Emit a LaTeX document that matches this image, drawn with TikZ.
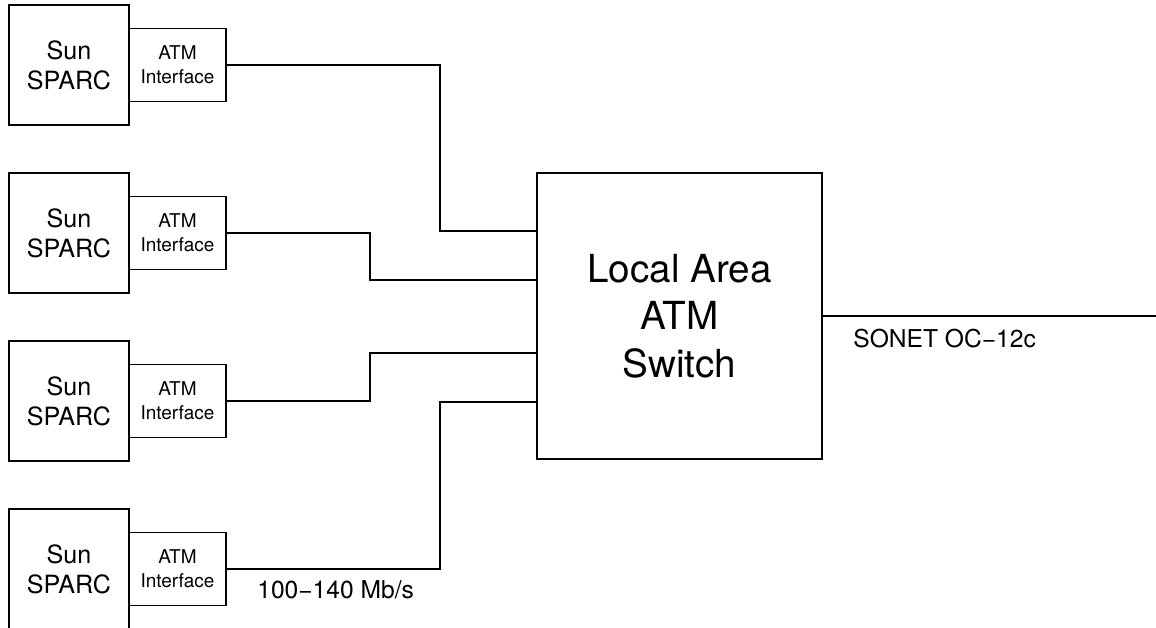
\documentclass[tikz,border=0pt]{standalone}
\usepackage{fontspec}
\setmainfont{TeX Gyre Heros}
\usepackage{tikz}
\usetikzlibrary{positioning,calc}

\tikzset{
  host/.style={draw, line width=1pt, minimum width=2.4cm, minimum height=2.4cm,
    inner sep=0pt, outer sep=0pt, align=center, font=\fontsize{14.3}{17}\selectfont},
  iface/.style={draw, line width=1pt, minimum width=1.94cm, minimum height=1.46cm,
    inner sep=0pt, outer sep=0pt, align=center, font=\fontsize{10.8}{13.6}\selectfont},
  link/.style={line width=1pt},
}

\begin{document}
\begin{tikzpicture}[x=0.02cm, y=-0.02cm, node distance=0pt]
  \useasboundingbox (0,0) rectangle (1156,627);

  % hosts with their interfaces
  \node[host] (sun1) at (69,65) {Sun\\SPARC};
  \node[iface, right=of sun1] (if1) {ATM\\Interface};
  \node[host] (sun2) at (69,233) {Sun\\SPARC};
  \node[iface, right=of sun2] (if2) {ATM\\Interface};
  \node[host] (sun3) at (69,401) {Sun\\SPARC};
  \node[iface, right=of sun3] (if3) {ATM\\Interface};
  \node[host] (sun4) at (69,569) {Sun\\SPARC};
  \node[iface, right=of sun4] (if4) {ATM\\Interface};

  % switch
  \node[draw, line width=1pt, minimum width=5.7cm, minimum height=5.72cm,
    inner sep=0pt, outer sep=0pt, align=center,
    font=\fontsize{22}{27}\selectfont] (sw) at (679.5,316) {Local Area\\ATM\\Switch};
  \coordinate (wan) at (1156,316);

  \draw[link] (if1.east) -- ++(214,0) |- ($(sw.west)+(0,-85)$);
  \draw[link] (if2.east) -- ++(144,0) |- ($(sw.west)+(0,-36)$);
  \draw[link] (if3.east) -- ++(144,0) |- ($(sw.west)+(0,37)$);
  \draw[link] (if4.east) -- ++(214,0) |- ($(sw.west)+(0,86)$);
  \draw[link] (sw.east) -- (wan);

  \node[anchor=base west, inner sep=0pt, font=\fontsize{14}{17}\selectfont] (rate) at (257,598) {100−140 Mb/s};
  \node[anchor=base west, inner sep=0pt, font=\fontsize{14}{17}\selectfont] (sonet) at (853,347) {SONET OC−12c};
\end{tikzpicture}
\end{document}
